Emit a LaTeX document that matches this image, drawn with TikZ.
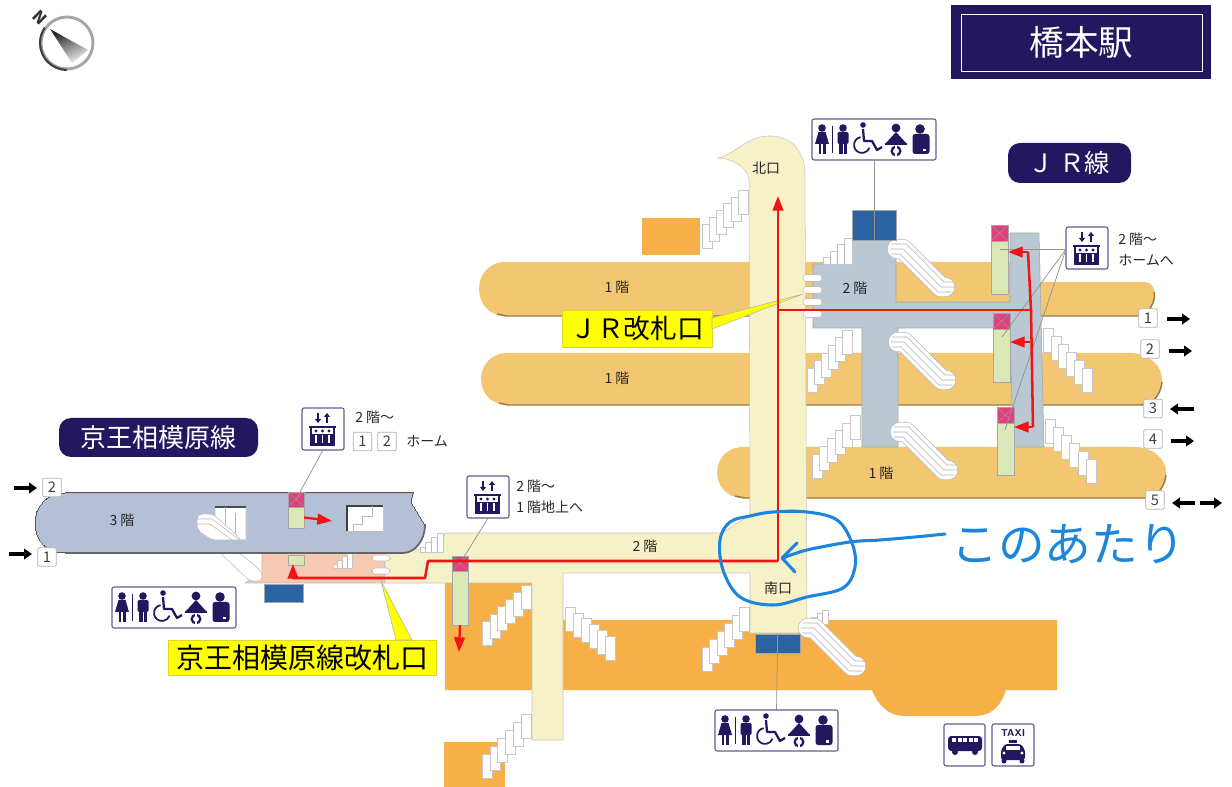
\documentclass[tikz,border=0pt]{standalone}
\usepackage{fontspec}
\setmainfont{Noto Sans CJK JP}
\usetikzlibrary{arrows.meta,shadings}
\definecolor{navy}{HTML}{231860}
\definecolor{plat}{HTML}{F3C672}
\definecolor{platedge}{HTML}{9A7A3A}
\definecolor{plaza}{HTML}{F7AF48}
\definecolor{ivory}{HTML}{F6F1C6}
\definecolor{jrgrey}{HTML}{B9C8D3}
\definecolor{keio}{HTML}{B4C0D8}
\definecolor{pinkf}{HTML}{F5C9B2}
\definecolor{lift}{HTML}{D9E8B4}
\definecolor{liftt}{HTML}{E0407C}
\definecolor{wcblue}{HTML}{2B63A3}
\definecolor{route}{HTML}{F01414}
\definecolor{pen}{HTML}{1C86DC}
\definecolor{ylab}{HTML}{FFFF00}
\tikzset{
  x=0.75pt,y=-0.75pt,
  tag/.style={fill=navy,text=white,rounded corners=9pt},
  ylabel/.style={fill=ylab,draw=ylab!70!gray,line width=.5pt,text=black},
  iconbox/.style={fill=white,draw=navy!70!white,line width=.8pt,rounded corners=1.5pt},
  numbox/.style={fill=white,draw=gray!60,line width=.6pt,rounded corners=1.5pt,inner sep=0,minimum width=14pt,minimum height=14pt,font=\fontsize{11}{12}\selectfont,text=black!75},
  lab/.style={font=\fontsize{10.5}{12}\selectfont,text=black!85,inner sep=0},
  leader/.style={draw=gray!85,line width=.55pt},
  routeline/.style={draw=route,line width=1.9pt},
  routetip/.style={draw=route,line width=1.7pt,-{Triangle[length=11pt,width=8pt]}},
  blackarrow/.style={draw=black,line width=2.4pt,-{Triangle[length=6pt,width=8pt]}},
  stairblock/.style={fill=white,draw=gray!45,line width=.4pt},
  wallline/.style={draw=gray!55,line width=.4pt}
}
\newcommand\bx[7]{\pgfmathsetmacro\bxw{(#4-#2)*0.75}\pgfmathsetmacro\bxh{(#5-#3)*0.75}\pgfmathsetmacro\bxc{(#2+#4)/2}\pgfmathsetmacro\bxd{(#3+#5)/2}\node[inner sep=0,outer sep=0,minimum width=\bxw pt,minimum height=\bxh pt,#6] (#1) at (\bxc,\bxd) {#7};}
% six blocks of a staircase
\newcommand\stairs[4]{\foreach \i in {0,...,5}{\pgfmathsetmacro\sa{#1+\i*(#3)}\pgfmathsetmacro\sb{#2+\i*(#4)}\path[stairblock] (\sa,\sb) rectangle ++(10,24);}}
% small stepped stair, rising to the right, in box x y w h
\newcommand\steps[4]{\begin{scope}[shift={(#1,#2)},x=#3*0.1875pt,y=-#4*0.1875pt]
\path[stairblock] (0,4)--(0,3)--(1,3)--(1,2)--(2,2)--(2,1)--(3,1)--(3,0)--(4,0)--(4,4)--cycle;
\draw[wallline] (1,3)--(1,4) (2,2)--(2,4) (3,1)--(3,4);
\end{scope}}
% escalator: 68 wide, 62 high
\newcommand\escal[2]{\begin{scope}[shift={(#1,#2)}]
\draw[gray!55,line width=15pt,line cap=round,line join=round] (10,12)--(16,12)--(54,50)--(58,50);
\draw[white,line width=14pt,line cap=round,line join=round] (10,12)--(16,12)--(54,50)--(58,50);
\draw[gray!60,line width=.5pt] (4,7)--(19,7)--(57,45)--(66,45) (3,12)--(16,12)--(54,50)--(67,50) (4,17)--(13,17)--(51,55)--(64,55);
\end{scope}}
% people row: box 124 x 41
\newcommand\wcglyph[2]{\begin{scope}[shift={(#1,#2)},navy]
\fill (10,9) circle (3.8);\fill (6.5,13)--(13.5,13)--(17,25)--(3,25)--cycle;\fill (6.5,24) rectangle (9.3,35);\fill (10.7,24) rectangle (13.5,35);
\fill (19.5,7) rectangle (21,34);
\fill (31,9) circle (3.8);\fill[rounded corners=1pt] (25.5,13) rectangle (36.5,25);\fill (27,24) rectangle (30.5,35);\fill (31.5,24) rectangle (35,35);
\fill (51,6) circle (2.8);\draw[line width=1.3pt] (48.6,18.1) arc[start angle=-100,end angle=-340,radius=8];\draw[line width=1.7pt,line join=round] (51,10)--(52,22)--(60,22)--(65,31)--(70,28);
\fill (84,9) circle (4.4);\fill (84,13)--(74,24)--(94,24)--cycle;\fill (73,24) rectangle (95,26);\draw[line width=1.7pt] (84,32) circle (4.3);\fill[white] (83.3,26) rectangle (84.7,38);
\fill (108,10) circle (4.8);\fill[rounded corners=2pt] (100.5,15) rectangle (117.5,35);\fill[white] (111,30) rectangle (114,32.5);
\end{scope}}
% lift glyph: box 42 x 42
\newcommand\liftglyph[2]{\begin{scope}[shift={(#1,#2)},navy]
\draw[line width=1.2pt,-{Triangle[length=3pt,width=4.5pt]}] (16,5)--(16,15);
\draw[line width=1.2pt,-{Triangle[length=3pt,width=4.5pt]}] (25,15)--(25,5);
\draw[line width=1.2pt] (9,20)--(9,37)--(32,37)--(32,20) (7,19)--(34,19);
\fill (9,26) rectangle (32,37);
\foreach \q in {14,20.5,27}{\fill[white] (\q-.9,27) rectangle (\q+.9,35);\fill[navy] (\q,23) circle (1.6);}
\end{scope}}
\newcommand\platshadow[1]{\draw[platedge,line width=1.1pt] #1;}
\begin{document}
\begin{tikzpicture}
\useasboundingbox (0,0) rectangle (1232,787);
\fill[white] (0,0) rectangle (1232,787);
% ---- compass
\draw[line width=2.2pt,gray!70] (67,43) circle (26);
\draw[line width=1.6pt,black!75] (67,70) arc[start angle=90,end angle=215,radius=27];
\shade[left color=black!85,right color=gray!15,shading angle=25] (50,29)--(88,50)--(72,63)--cycle;
\node[rotate=-45,font=\fontsize{12}{12}\selectfont\bfseries,text=black!80,inner sep=0] (north) at (40,18) {N};
% ---- title
\bx{title}{951}{5}{1211}{79}{fill=navy}{}
\bx{titlein}{961}{14}{1202}{71}{draw=white,line width=.7pt,text=white,font=\fontsize{26}{30}\selectfont}{橋本駅}
% ---- platforms
\fill[plat] (506,262)--(1040,262)--(1040,282)--(1145,282) .. controls (1156,282) and (1160,300) .. (1144,316)--(506,316) .. controls (470,316) and (470,262) .. (506,262)--cycle;
\platshadow{(497,314)--(506,316)--(1144,316) .. controls (1152,308) and (1156,298) .. (1154,292)}
\fill[plat] (508,353)--(1130,353) .. controls (1150,353) and (1163,368) .. (1162,380) .. controls (1161,392) and (1155,405) .. (1140,405)--(508,405) .. controls (472,405) and (472,353) .. (508,353)--cycle;
\platshadow{(499,403)--(508,405)--(1140,405) .. controls (1155,405) and (1161,392) .. (1162,382)}
\fill[plat] (744,447)--(1135,447) .. controls (1155,447) and (1167,462) .. (1166,473) .. controls (1165,485) and (1158,498) .. (1145,498)--(744,498) .. controls (708,498) and (708,447) .. (744,447)--cycle;
\platshadow{(735,496)--(744,498)--(1145,498) .. controls (1158,498) and (1165,485) .. (1166,475)}
% ---- orange forecourts
\fill[plaza] (445,583)--(563,583)--(563,620)--(1057,620)--(1057,690)--(1006,690) .. controls (1000,708) and (990,716) .. (975,716)--(905,716) .. controls (888,716) and (878,705) .. (872,690)--(445,690)--cycle;
\fill[plaza] (444,742) rectangle (505,787);
\fill[plaza] (642,218) rectangle (700,255);
% ---- lower layer of the Keio concourse
\path[fill=pinkf,wallline] (262,553)--(385,553)--(385,583)--(245,583)--(262,572)--cycle;
% ---- JR concourse
\path[fill=jrgrey,draw=gray!70,line width=.4pt] (813,264)--(852,264)--(852,240)--(896,240)--(896,302)--(1010,302)--(1010,233)--(1039,233)--(1044,447)--(1013,447)--(1010,328)--(898,328)--(898,447)--(862,447)--(862,328)--(813,328)--cycle;
% ---- ivory concourse
\path[fill=ivory,draw=gray!45,line width=.4pt] (749,178) .. controls (745,165) and (730,158) .. (717,158) .. controls (735,155) and (745,137) .. (768,136) .. controls (790,135) and (805,150) .. (805,175)--(807,633)--(750,633)--(750,573)--(563,573)--(563,740)--(532,740)--(532,583)--(385,583)--(385,550)--(440,550)--(445,533)--(722,533)--(750,515)--cycle;
% ---- lower Keio escalator, small stairs
\path[fill=white,draw=gray!50,line width=.4pt,rounded corners=3pt] (220,553)--(240,553)--(262,572)--(262,581)--(250,581)--cycle;
\steps{420}{533}{23}{19}
\steps{333}{553}{19}{15}
% ---- stairs
\stairs{702}{224}{7.2}{-6.8}
\steps{823}{238}{29}{26}
\stairs{807}{368}{7}{-7.6}
\stairs{812}{454}{7.6}{-7.8}
\stairs{1043}{328}{7.8}{8}
\stairs{1045}{419}{8.2}{8}
\stairs{482}{621}{7.8}{-7.2}
\stairs{482}{754}{7.8}{-8}
\stairs{565}{607}{8}{5.8}
\stairs{702}{647}{7.5}{-8}
\steps{806}{610}{22}{14}
\escal{887}{237}
\escal{888}{330}
\escal{890}{420}
\escal{798}{616}
% ---- Keio 3rd floor platform
\path[fill=keio,draw=black!65,line width=0pt] (65,493)--(413,493)--(411,502)--(425,525) .. controls (425,540) and (415,553) .. (403,553)--(65,553) .. controls (25,553) and (25,493) .. (65,493)--cycle;
\draw[black!60,line width=1.3pt] (65,553)--(403,553) .. controls (415,553) and (425,540) .. (425,525);
\draw[black!30,line width=.5pt] (65,493)--(413,493);
\path[fill=white,draw=gray!45,line width=.4pt] (215,507)--(246,507)--(246,540)--(234,540)--(215,520)--cycle;
\draw[black!70,line width=1.2pt] (215,507)--(246,507);
\draw[wallline] (225,507)--(225,530) (235,513)--(235,540);
\path[fill=white,draw=gray!50,line width=.4pt,rounded corners=4pt] (197,514)--(213,514)--(242,540)--(240,540)--(212,540)--(197,530)--cycle;
\draw[gray!55,line width=.4pt] (197,519)--(212,519)--(240,540) (197,524)--(210,524)--(232,540);
\path[fill=white,draw=gray!45,line width=.4pt] (347,506) rectangle (383,531);
\draw[black!75,line width=1.1pt] (383,506)--(347,506)--(347,531);
\draw[wallline] (353,531)--(353,524)--(362,524)--(362,516)--(372,516)--(372,506) (353,531)--(383,531);
% ---- lifts
\bx{liftKa}{288}{507}{304}{528}{fill=lift,draw=gray!70,line width=.4pt}{}
\bx{liftKtop}{288}{492}{304}{507}{fill=liftt,draw=gray!70,line width=.4pt}{}
\bx{liftKb}{288}{555}{304}{565}{fill=lift,draw=gray!70,line width=.4pt}{}
\bx{liftC}{452}{571}{468}{625}{fill=lift,draw=gray!70,line width=.4pt}{}
\bx{liftCtop}{452}{556}{468}{571}{fill=liftt,draw=gray!70,line width=.4pt}{}
\bx{liftJa}{991}{241}{1008}{294}{fill=lift,draw=gray!70,line width=.4pt}{}
\bx{liftJatop}{991}{225}{1008}{241}{fill=liftt,draw=gray!70,line width=.4pt}{}
\bx{liftJb}{993}{329}{1010}{382}{fill=lift,draw=gray!70,line width=.4pt}{}
\bx{liftJbtop}{993}{313}{1010}{329}{fill=liftt,draw=gray!70,line width=.4pt}{}
\bx{liftJc}{997}{423}{1014}{475}{fill=lift,draw=gray!70,line width=.4pt}{}
\bx{liftJctop}{997}{407}{1014}{423}{fill=liftt,draw=gray!70,line width=.4pt}{}
% ---- toilets
\bx{wcN}{852}{210}{896}{240}{fill=wcblue,draw=gray!70,line width=.4pt}{}
\bx{wcS}{755}{634}{800}{653}{fill=wcblue,draw=gray!70,line width=.4pt}{}
\bx{wcK}{264}{584}{303}{602}{fill=wcblue,draw=gray!70,line width=.4pt}{}
% ---- gates
\foreach \g in {278,290,302,314}{\path[fill=white,draw=gray!50,line width=.4pt,rounded corners=2.5pt] (803,\g-3.5) rectangle (822,\g+3.5);}
\foreach \g in {558,571}{\path[fill=white,draw=gray!50,line width=.4pt,rounded corners=2.5pt] (372,\g-3) rectangle (390,\g+3);}
% ---- yellow labels with wedges
\coordinate (gateJ) at (803,294);
\coordinate (gateK) at (381,581);
\bx{labJ}{562}{310}{712}{347}{ylabel,font=\fontsize{20}{24}\selectfont}{ＪＲ改札口}
\bx{labK}{168}{640}{436}{675}{ylabel,font=\fontsize{21}{25}\selectfont}{京王相模原線改札口}
\coordinate (wedgeA) at (712,318);
\coordinate (wedgeB) at (712,329);
\path[fill=ylab,draw=gray!60,line width=.4pt] (gateJ)--(wedgeA)--(wedgeB)--cycle;
\path[fill=ylab,draw=gray!60,line width=.4pt] (gateK)--(412,640)--(396,640)--cycle;
% ---- icon boxes
\bx{iconN}{812}{119}{936}{160}{iconbox}{}
\bx{iconK}{112}{587}{236}{628}{iconbox}{}
\bx{iconS}{715}{710}{838}{751}{iconbox}{}
\wcglyph{812}{119}\wcglyph{112}{587}\wcglyph{715}{710}
\bx{upJ}{1066}{227}{1108}{269}{iconbox}{}
\bx{upK}{302}{408}{344}{450}{iconbox}{}
\bx{upC}{467}{476}{509}{518}{iconbox}{}
\liftglyph{1066}{227}\liftglyph{302}{408}\liftglyph{467}{476}
\bx{bus}{944}{724}{985}{766}{iconbox}{}
\bx{taxi}{992}{724}{1034}{766}{iconbox}{}
\begin{scope}[shift={(944,724)},navy]
\fill[rounded corners=2.5pt] (4,12) rectangle (38,27);
\foreach \w in {8,13.5,19,24.5,30}{\fill[white] (\w,14) rectangle (\w+4,18);}
\fill (11,28) circle (3);\fill (31,28) circle (3);
\end{scope}
\begin{scope}[shift={(992,724)},navy]
\node[font=\fontsize{7.5}{8}\bfseries\sffamily,inner sep=0] (taxitext) at (21,9) {TAXI};
\fill (17,16) rectangle (25,19);
\fill[rounded corners=2pt] (9,36)--(9,26)--(13,20)--(29,20)--(33,26)--(33,36)--cycle;
\fill[white] (14,22) rectangle (28,26);
\fill[white] (12,29) circle (1.6);\fill[white] (30,29) circle (1.6);
\fill (12,37) circle (2.5);\fill (30,37) circle (2.5);
\end{scope}
% ---- leaders
\draw[leader] (iconN.south)--(wcN.south);
\draw[leader] (wcS.north)--(wcS.center)--(wcS.south)--(iconS.north);
\draw[leader] (upK.south)--(liftKtop.center);
\draw[leader] (upC.south)--(liftCtop.center);
\coordinate (upJw) at (1066,249);
\coordinate (tipA) at (1000,249);
\coordinate (tipB) at (1002,337);
\coordinate (tipC) at (1005,430);
\draw[leader] (upJw)--(tipA);
\draw[leader] (upJw)--(tipB);
\draw[leader] (upJw)--(tipC);
\foreach \t in {liftKtop,liftCtop,liftJatop,liftJbtop,liftJctop}{\draw[black!40,line width=.3pt] (\t.north west)--(\t.south east) (\t.north east)--(\t.south west);}
% ---- red routes
\coordinate (rA) at (293,578);\coordinate (rB) at (425,578);\coordinate (rC) at (428,561);
\coordinate (rD) at (778,561);\coordinate (rE) at (778,196);\coordinate (rF) at (778,310);
\coordinate (rG) at (1031,310);\coordinate (rH) at (1028,252);\coordinate (rI) at (1033,427);
\draw[routeline,line join=round] (rA)--(rB)--(rC)--(rD);
\draw[routetip] (rD)--(rE);
\draw[routetip] (rA)--(293,564);
\draw[routeline] (rF)--(rG);
\draw[routeline,line join=round] (rH)--(rG)--(rI);
\draw[routetip] (rH)--(liftJa.east|-rH);
\draw[routetip] (1030,342)--(liftJb.east|-0,342);
\draw[routetip] (rI)--(liftJc.east|-rI);
\draw[routetip] (liftKa.east)--(332,521);
\draw[routetip] (liftC.south)--(459,652);
% ---- tags
\bx{tagK}{59}{418}{258}{457}{tag,font=\fontsize{19.5}{23}\selectfont}{京王相模原線}
\bx{tagJ}{1008}{143}{1131}{183}{tag,font=\fontsize{19}{23}\selectfont}{Ｊ Ｒ線}
% ---- floor labels
\node[lab] (f1a) at (617,287) {1 階};
\node[lab] (f1b) at (617,378) {1 階};
\node[lab] (f1c) at (881,473) {1 階};
\node[lab] (f2a) at (855,288) {2 階};
\node[lab] (f2b) at (645,546) {2 階};
\node[lab] (f3) at (122,520) {3 階};
\node[lab] (north1) at (766,168) {北口};
\node[lab] (south1) at (778,588) {南口};
\node[lab,anchor=west] (ta) at (355,417) {2 階～};
\node[numbox] (n1k) at (362.5,441.5) {1};
\node[numbox] (n2k) at (387,441.5) {2};
\node[lab,anchor=west] (tb) at (406,441) {ホーム};
\node[lab,anchor=west] (tc) at (516,486) {2 階～};
\node[lab,anchor=west] (td) at (516,507) {1 階地上へ};
\node[lab,anchor=west] (te) at (1118,239) {2 階～};
\node[lab,anchor=west] (tf) at (1118,260) {ホームへ};
% ---- track numbers
\node[numbox] (k2) at (52,487.5) {2};
\node[numbox] (k1) at (47,557) {1};
\node[numbox] (j1) at (1148,318) {1};
\node[numbox] (j2) at (1150,349) {2};
\node[numbox] (j3) at (1153,408.5) {3};
\node[numbox] (j4) at (1153,439) {4};
\node[numbox] (j5) at (1155,500) {5};
\coordinate (b1) at (14,488);\coordinate (b2) at (9,554);
\coordinate (b3) at (37,488);\coordinate (b4) at (32,554);
\draw[blackarrow] (b1)--(b3);
\draw[blackarrow] (b2)--(b4);
\coordinate (a1) at (1190,319);\coordinate (a2) at (1192,351);\coordinate (a3) at (1170,409);
\coordinate (a4) at (1194,441);\coordinate (a5) at (1172,503);\coordinate (a6) at (1222,503);
\draw[blackarrow] (1167,319)--(a1);
\draw[blackarrow] (1169,351)--(a2);
\draw[blackarrow] (1194,409)--(a3);
\draw[blackarrow] (1171,441)--(a4);
\draw[blackarrow] (1195,503)--(a5);
\draw[blackarrow] (1200,503)--(a6);
% ---- handwritten note
\draw[pen,line width=2.3pt,line cap=round] plot[smooth cycle,tension=.6] coordinates {(750,516) (773,512) (807,512) (837,520) (852,543) (855,567) (843,588) (807,597) (773,605) (740,597) (723,570) (720,540) (730,522)};
\draw[pen,line width=2.3pt,line cap=round,line join=round] plot[smooth,tension=.6] coordinates {(945,534) (915,537) (880,540) (850,542) (807,550) (783,558)};
\draw[pen,line width=2.3pt,line cap=round,line join=round] (797,543)--(782,558)--(795,572);
\node[text=pen,font=\fontsize{35}{40}\selectfont,inner sep=0] (note) at (1068,544) {このあたり};
\end{tikzpicture}
\end{document}
